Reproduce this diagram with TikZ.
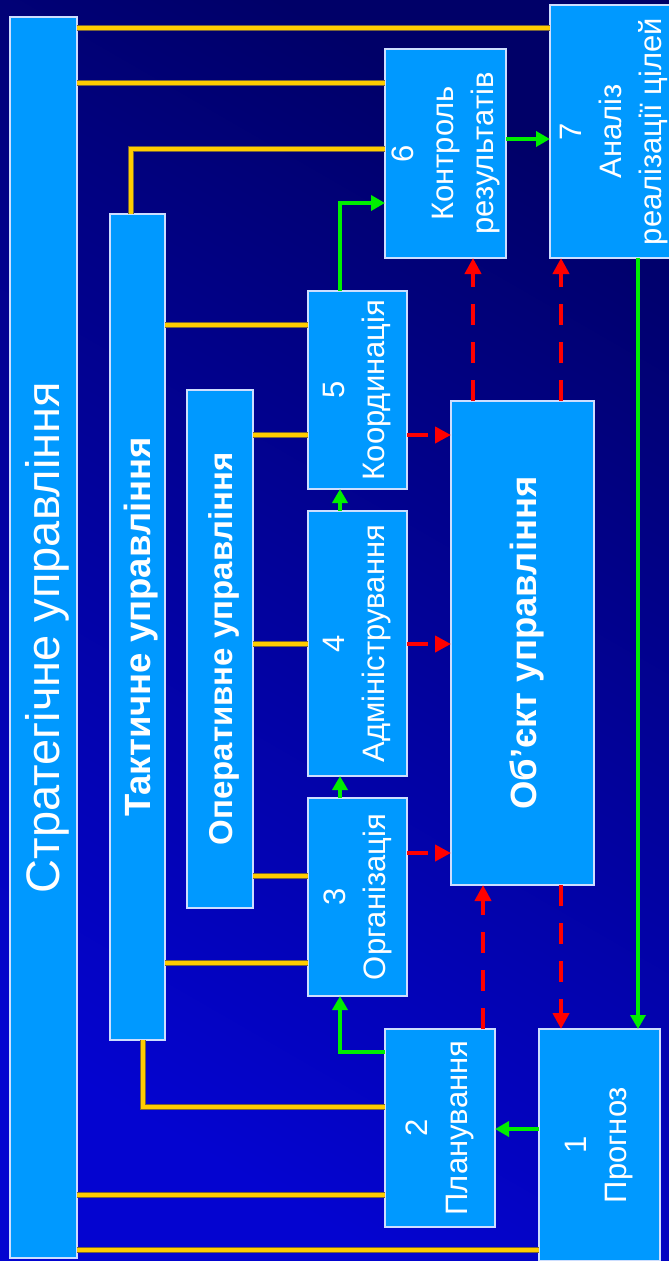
\documentclass[tikz,border=0pt]{standalone}
\usepackage{fontspec}
\setmainfont{Liberation Sans}
\usetikzlibrary{arrows.meta}

\definecolor{boxblue}{RGB}{0,153,255}
\definecolor{boxedge}{RGB}{205,222,255}
\definecolor{gold}{RGB}{255,204,0}
\definecolor{goldedge}{RGB}{120,100,60}
\definecolor{flow}{RGB}{0,238,0}
\definecolor{feedback}{RGB}{255,0,0}
\definecolor{bgtop}{RGB}{0,0,104}
\definecolor{bgbot}{RGB}{4,4,208}

\begin{document}
\begin{tikzpicture}[x=1pt,y=-1pt,
  box/.style={draw=boxedge, line width=1.2pt, fill=boxblue,
    inner sep=0pt, outer sep=0pt, anchor=north west},
  caption/.style={rotate=90, text=white, align=center, inner sep=0pt,
    font=\fontsize{31}{40}\selectfont},
  level/.style={xshift=4pt, rotate=90, text=white, inner sep=0pt},
  link/.style={draw=gold, line width=4.6pt,
    preaction={draw=goldedge, line width=6.2pt}},
  flowarrow/.style={draw=flow, line width=4pt,
    -{Triangle[length=14pt,width=15pt]}},
  fbarrow/.style={draw=feedback, line width=4.5pt,
    dash pattern=on 21pt off 17pt,
    -{Triangle[length=16pt,width=16pt]}}]

\useasboundingbox (0,0) rectangle (669,1261);
\shade[top color=bgtop, bottom color=bgbot, shading angle=-30]
  (0,0) rectangle (669,1261);

% management levels
\node[box, minimum width=67pt, minimum height=1241pt] (strat) at (10,17) {};
\node[level, font=\fontsize{47}{47}\selectfont] (stratT) at (strat.center)
  {Стратегічне управління};
\node[box, minimum width=55pt, minimum height=826pt] (tact) at (110,214) {};
\node[level, font=\bfseries\fontsize{36.5}{36.5}\selectfont] (tactT) at (tact.center)
  {Тактичне управління};
\node[box, minimum width=66pt, minimum height=518pt] (oper) at (187,390) {};
\node[level, font=\bfseries\fontsize{33}{33}\selectfont] (operT) at (oper.center)
  {Оперативне управління};

% functions
\node[box, minimum width=99pt, minimum height=198pt] (b5) at (308,291) {};
\node[caption] (t5) at (b5.center) {5\\Координація};
\node[box, minimum width=99pt, minimum height=265pt] (b4) at (308,511) {};
\node[caption] (t4) at (b4.center) {4\\Адміністрування};
\node[box, minimum width=99pt, minimum height=198pt] (b3) at (308,798) {};
\node[caption] (t3) at (b3.center) {3\\Організація};
\node[box, minimum width=121pt, minimum height=209pt] (b6) at (385,49) {};
\node[caption] (t6) at (b6.center) {6\\Контроль\\результатів};
\node[box, minimum width=128pt, minimum height=253pt] (b7) at (550,5) {};
\node[caption] (t7) at (b7.center) {7\\Аналіз\\реалізації цілей};
\node[box, minimum width=110pt, minimum height=198pt] (b2) at (385,1029) {};
\node[caption] (t2) at (b2.center) {2\\Планування};
\node[box, minimum width=121pt, minimum height=232pt] (b1) at (539,1029) {};
\node[caption] (t1) at (b1.center) {1\\Прогноз};

% managed object
\node[box, minimum width=143pt, minimum height=484pt] (obj) at (451,401) {};
\node[level, font=\bfseries\fontsize{36.5}{36.5}\selectfont] (objT) at (obj.center)
  {Об’єкт управління};

% links between levels and functions
\draw[link] (strat.east |- 0,28) -- (b7.west |- 0,28);
\draw[link] (strat.east |- 0,83) -- (b6.west |- 0,83);
\draw[link] (tact.north -| 131,0) |- (b6.west |- 0,149);
\draw[link] (tact.east |- 0,325) -- (b5.west |- 0,325);
\draw[link] (oper.east |- 0,435) -- (b5.west |- 0,435);
\draw[link] (oper.east |- 0,644) -- (b4.west |- 0,644);
\draw[link] (oper.east |- 0,876) -- (b3.west |- 0,876);
\draw[link] (tact.east |- 0,963) -- (b3.west |- 0,963);
\draw[link] (tact.south -| 143,0) |- (b2.west |- 0,1107);
\draw[link] (strat.east |- 0,1195) -- (b2.west |- 0,1195);
\draw[link] (strat.east |- 0,1250) -- (b1.west |- 0,1250);

% management cycle
\draw[flowarrow] (b1.west |- 0,1129) -- (b2.east |- 0,1129);
\draw[flowarrow] (b2.west |- 0,1052) -| (b3.south -| 340,0);
\draw[flowarrow] (b3.north -| 340,0) -- (b4.south -| 340,0);
\draw[flowarrow] (b4.north -| 340,0) -- (b5.south -| 340,0);
\draw[flowarrow] (b5.north -| 340,0) |- (b6.west |- 0,203);
\draw[flowarrow] (b6.east |- 0,139) -- (b7.west |- 0,139);
\draw[flowarrow] (b7.south -| 638,0) -- (b1.north -| 638,0);

% influence on the object and feedback
\draw[fbarrow] (b5.east |- 0,435) -- (obj.west |- 0,435);
\draw[fbarrow] (b4.east |- 0,644) -- (obj.west |- 0,644);
\draw[fbarrow] (b3.east |- 0,853) -- (obj.west |- 0,853);
\draw[fbarrow] (b2.north -| 483,0) -- (obj.south -| 483,0);
\draw[fbarrow] (obj.north -| 473,0) -- (b6.south -| 473,0);
\draw[fbarrow] (obj.north -| 561,0) -- (b7.south -| 561,0);
\draw[fbarrow] (obj.south -| 561,0) -- (b1.north -| 561,0);
\end{tikzpicture}
\end{document}
